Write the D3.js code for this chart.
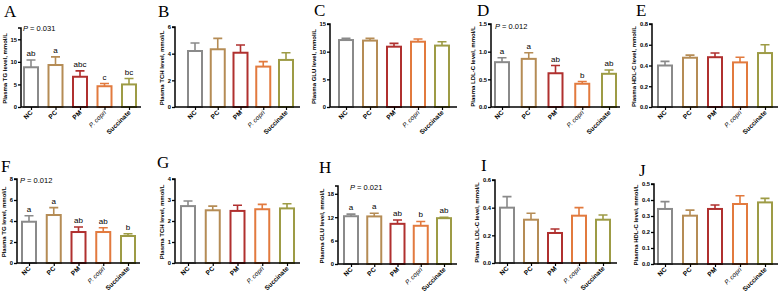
<!DOCTYPE html>
<html>
<head>
<meta charset="utf-8">
<script src="https://cdn.jsdelivr.net/npm/d3@7"></script>
<style>
  body { margin: 0; background: #fff; }
  svg { display: block; font-family: "Liberation Sans", Arial, sans-serif; }
</style>
</head>
<body>
<div id="chart"></div>
<script>
// groups
var groups = ["NC", "PC", "PM", "P. copri", "Succinate"];

// panel A - TG
var tgMeanA = [8.8, 9.3, 6.7, 4.6, 5.0];
var tgSemA = [1.6, 1.8, 1.3, 0.6, 1.3];
var tgSigA = ["ab", "a", "abc", "c", "bc"];
// panel B - TCH
var tchMeanB = [4.2, 4.33, 4.07, 3.03, 3.53];
var tchSemB = [0.6, 0.82, 0.58, 0.37, 0.54];
// panel C - GLU
var gluMeanC = [12.1, 12.0, 10.9, 11.8, 11.1];
var gluSemC = [0.3, 0.4, 0.6, 0.5, 0.7];
// panel D - LDL-C
var ldlMeanD = [0.81, 0.87, 0.61, 0.42, 0.60];
var ldlSemD = [0.08, 0.11, 0.14, 0.04, 0.07];
var ldlSigD = ["a", "a", "ab", "b", "ab"];
// panel E - HDL-C
var hdlMeanE = [0.40, 0.475, 0.48, 0.43, 0.52];
var hdlSemE = [0.04, 0.025, 0.04, 0.05, 0.08];
// panel F - TG
var tgMeanF = [3.93, 4.57, 2.95, 2.95, 2.57];
var tgSemF = [0.57, 0.7, 0.48, 0.41, 0.22];
var tgSigF = ["a", "a", "ab", "ab", "b"];
// panel G - TCH
var tchMeanG = [2.71, 2.51, 2.48, 2.56, 2.6];
var tchSemG = [0.24, 0.2, 0.27, 0.23, 0.22];
// panel H - GLU
var gluMeanH = [12.25, 12.2, 10.3, 9.8, 11.75];
var gluSemH = [0.55, 0.8, 1.0, 1.1, 0.25];
var gluSigH = ["a", "a", "ab", "b", "ab"];
// panel I - LDL-C
var ldlMeanI = [0.40, 0.313, 0.217, 0.342, 0.313];
var ldlSemI = [0.08, 0.047, 0.029, 0.058, 0.034];
// panel J - HDL-C
var hdlMeanJ = [0.344, 0.302, 0.344, 0.375, 0.385];
var hdlSemJ = [0.046, 0.035, 0.025, 0.052, 0.025];

// axis ticks
var ticksA = [0, 5, 10, 15], ticksB = [0, 2, 4, 6], ticksC = [0, 5, 10, 15];
var ticksD = [0, 0.5, 1.0, 1.5], ticksE = [0, 0.2, 0.4, 0.6, 0.8];
var ticksF = [0, 2, 4, 6, 8], ticksG = [0, 1, 2, 3, 4], ticksH = [0, 6, 12, 18];
var ticksI = [0, 0.2, 0.4, 0.6], ticksJ = [0, 0.1, 0.2, 0.3, 0.4, 0.5];

var colors = ["#8a8a8a", "#b58c55", "#b0302f", "#e27a3e", "#9d9b45"];

// panels built from the arrays above; layout numbers are pixel placement only
var panels = [
  { letter: "A", label: "Plasma TG level, mmol/L", mean: tgMeanA, sem: tgSemA, sig: tgSigA, p: "0.031", ticks: ticksA, max: 17.5, fmt: "d",
    ax: 21, xEnd: 141, c0: 31, c1: 129, top: 28, bot: 107, lt: [4, 17], pp: [23, 31] },
  { letter: "B", label: "Plasma TCH level, mmol/L", mean: tchMeanB, sem: tchSemB, ticks: ticksB, max: 6, fmt: "d",
    ax: 175, xEnd: 300, c0: 195, c1: 286, top: 27, bot: 107, lt: [158, 17] },
  { letter: "C", label: "Plasma GLU level, mmol/L", mean: gluMeanC, sem: gluSemC, ticks: ticksC, max: 15, fmt: "d",
    ax: 330, xEnd: 457, c0: 346, c1: 442, top: 24, bot: 107, lt: [314, 16] },
  { letter: "D", label: "Plasma LDL-C level, mmol/L", mean: ldlMeanD, sem: ldlSemD, sig: ldlSigD, p: "0.012", ticks: ticksD, max: 1.5, fmt: ".1f",
    ax: 491, xEnd: 620, c0: 502, c1: 609, top: 24, bot: 107, lt: [477, 16], pp: [495, 29] },
  { letter: "E", label: "Plasma HDL-C level, mmol/L", mean: hdlMeanE, sem: hdlSemE, ticks: ticksE, max: 0.8, fmt: ".1f",
    ax: 652, xEnd: 778, c0: 665, c1: 765, top: 24, bot: 107, lt: [636, 16] },
  { letter: "F", label: "Plasma TG level, mmol/L", mean: tgMeanF, sem: tgSemF, sig: tgSigF, p: "0.012", ticks: ticksF, max: 8, fmt: "d",
    ax: 17, xEnd: 140, c0: 29, c1: 128, top: 179, bot: 263, lt: [1, 172], pp: [20, 183] },
  { letter: "G", label: "Plasma TCH level, mmol/L", mean: tchMeanG, sem: tchSemG, ticks: ticksG, max: 4, fmt: "d",
    ax: 175, xEnd: 300, c0: 188, c1: 287, top: 179, bot: 263, lt: [157, 168] },
  { letter: "H", label: "Plasma GLU level, mmol/L", mean: gluMeanH, sem: gluSemH, sig: gluSigH, p: " 0.021", ticks: ticksH, max: 20, fmt: "d",
    ax: 338, xEnd: 457, c0: 351, c1: 444, top: 186, bot: 264, lt: [319, 173], pp: [350, 190] },
  { letter: "I", label: "Plasma LDL-C level, mmol/L", mean: ldlMeanI, sem: ldlSemI, ticks: ticksI, max: 0.6, fmt: ".1f",
    ax: 495, xEnd: 617, c0: 507, c1: 603, top: 180, bot: 263, lt: [481, 171] },
  { letter: "J", label: "Plasma HDL-C level, mmol/L", mean: hdlMeanJ, sem: hdlSemJ, ticks: ticksJ, max: 0.5, fmt: ".1f",
    ax: 654, xEnd: 778, c0: 665, c1: 765, top: 184, bot: 264, lt: [639, 176] }
];

var W = 778, H = 292, barW = 16;

var svg = d3.select("#chart").append("svg")
    .attr("width", W)
    .attr("height", H);

svg.append("rect").attr("width", W).attr("height", H).attr("fill", "#fff");

panels.forEach(function(p) {
    var g = svg.append("g");

    var x = d3.scalePoint().domain(groups).range([p.c0, p.c1]);
    var y = d3.scaleLinear().domain([0, p.max]).range([p.bot, p.top]);

    var rows = groups.map(function(name, i) {
        return { name: name, mean: p.mean[i], sem: p.sem[i], sig: p.sig ? p.sig[i] : null, color: colors[i] };
    });

    // bars
    g.selectAll("rect.bar")
        .data(rows)
        .enter()
        .append("rect")
        .attr("class", "bar")
        .attr("x", function(d) { return x(d.name) - barW / 2 + 1; })
        .attr("y", function(d) { return y(d.mean); })
        .attr("width", barW - 2)
        .attr("height", function(d) { return y(0) - y(d.mean); })
        .attr("fill", "#fff")
        .attr("stroke", function(d) { return d.color; })
        .attr("stroke-width", 2);

    // error bars (upper only)
    g.selectAll("path.err")
        .data(rows)
        .enter()
        .append("path")
        .attr("class", "err")
        .attr("d", function(d) {
            var cx = x(d.name), yt = y(d.mean + d.sem);
            return "M" + cx + "," + y(d.mean) + "V" + yt + "M" + (cx - 4.5) + "," + yt + "H" + (cx + 4.5);
        })
        .attr("fill", "none")
        .attr("stroke", function(d) { return d.color; })
        .attr("stroke-width", 1.6);

    // significance letters
    if (p.sig) {
        g.selectAll("text.sig")
            .data(rows)
            .enter()
            .append("text")
            .attr("class", "sig")
            .attr("x", function(d) { return x(d.name); })
            .attr("y", function(d) { return y(d.mean + d.sem) - 4; })
            .attr("text-anchor", "middle")
            .style("font-size", "8px")
            .text(function(d) { return d.sig; });
    }

    // y axis
    var yAxis = d3.axisLeft(y)
        .tickValues(p.ticks)
        .tickFormat(d3.format(p.fmt))
        .tickSize(3)
        .tickPadding(1);

    var ya = g.append("g")
        .attr("transform", "translate(" + p.ax + ",0)")
        .call(yAxis);
    ya.select(".domain").attr("d", "M-3," + p.top + "H0V" + p.bot).attr("stroke-width", 1.5);
    ya.selectAll(".tick line").attr("stroke-width", 1.3);
    ya.selectAll("text").style("font-size", "5.8px").style("font-weight", "bold");

    // x axis
    var xa = g.append("g")
        .attr("transform", "translate(0," + p.bot + ")")
        .call(d3.axisBottom(x).tickSize(3).tickFormat(""));
    xa.select(".domain").attr("d", "M" + p.ax + ",0H" + p.xEnd).attr("stroke-width", 1.5);
    xa.selectAll(".tick line").attr("stroke-width", 1.2);

    // rotated category labels
    g.selectAll("text.cat")
        .data(rows)
        .enter()
        .append("text")
        .attr("class", "cat")
        .attr("transform", function(d) {
            return "translate(" + (x(d.name) + 2) + "," + (p.bot + 6) + ") rotate(-45)";
        })
        .attr("text-anchor", "end")
        .style("font-size", "6.5px")
        .style("font-weight", function(d) { return d.name === "P. copri" ? "normal" : "bold"; })
        .style("font-style", function(d) { return d.name === "P. copri" ? "italic" : "normal"; })
        .text(function(d) { return d.name; });

    // y label, placed just left of the tick labels
    var lx = ya.node().getBBox().x + p.ax - 4;
    g.append("text")
        .attr("transform", "translate(" + lx + "," + ((p.top + p.bot) / 2 + 1) + ") rotate(-90)")
        .attr("text-anchor", "middle")
        .style("font-size", "6px")
        .style("font-weight", "bold")
        .text(p.label);

    // panel letter
    g.append("text")
        .attr("x", p.lt[0])
        .attr("y", p.lt[1])
        .style("font-family", "'Liberation Serif', 'Times New Roman', serif")
        .style("font-size", "17px")
        .text(p.letter);

    // P value
    if (p.p) {
        var pt = g.append("text")
            .attr("x", p.pp[0])
            .attr("y", p.pp[1])
            .style("font-size", "7.5px");
        pt.append("tspan").style("font-style", "italic").text("P");
        pt.append("tspan").text(" = " + p.p);
    }
});
</script>
</body>
</html>
